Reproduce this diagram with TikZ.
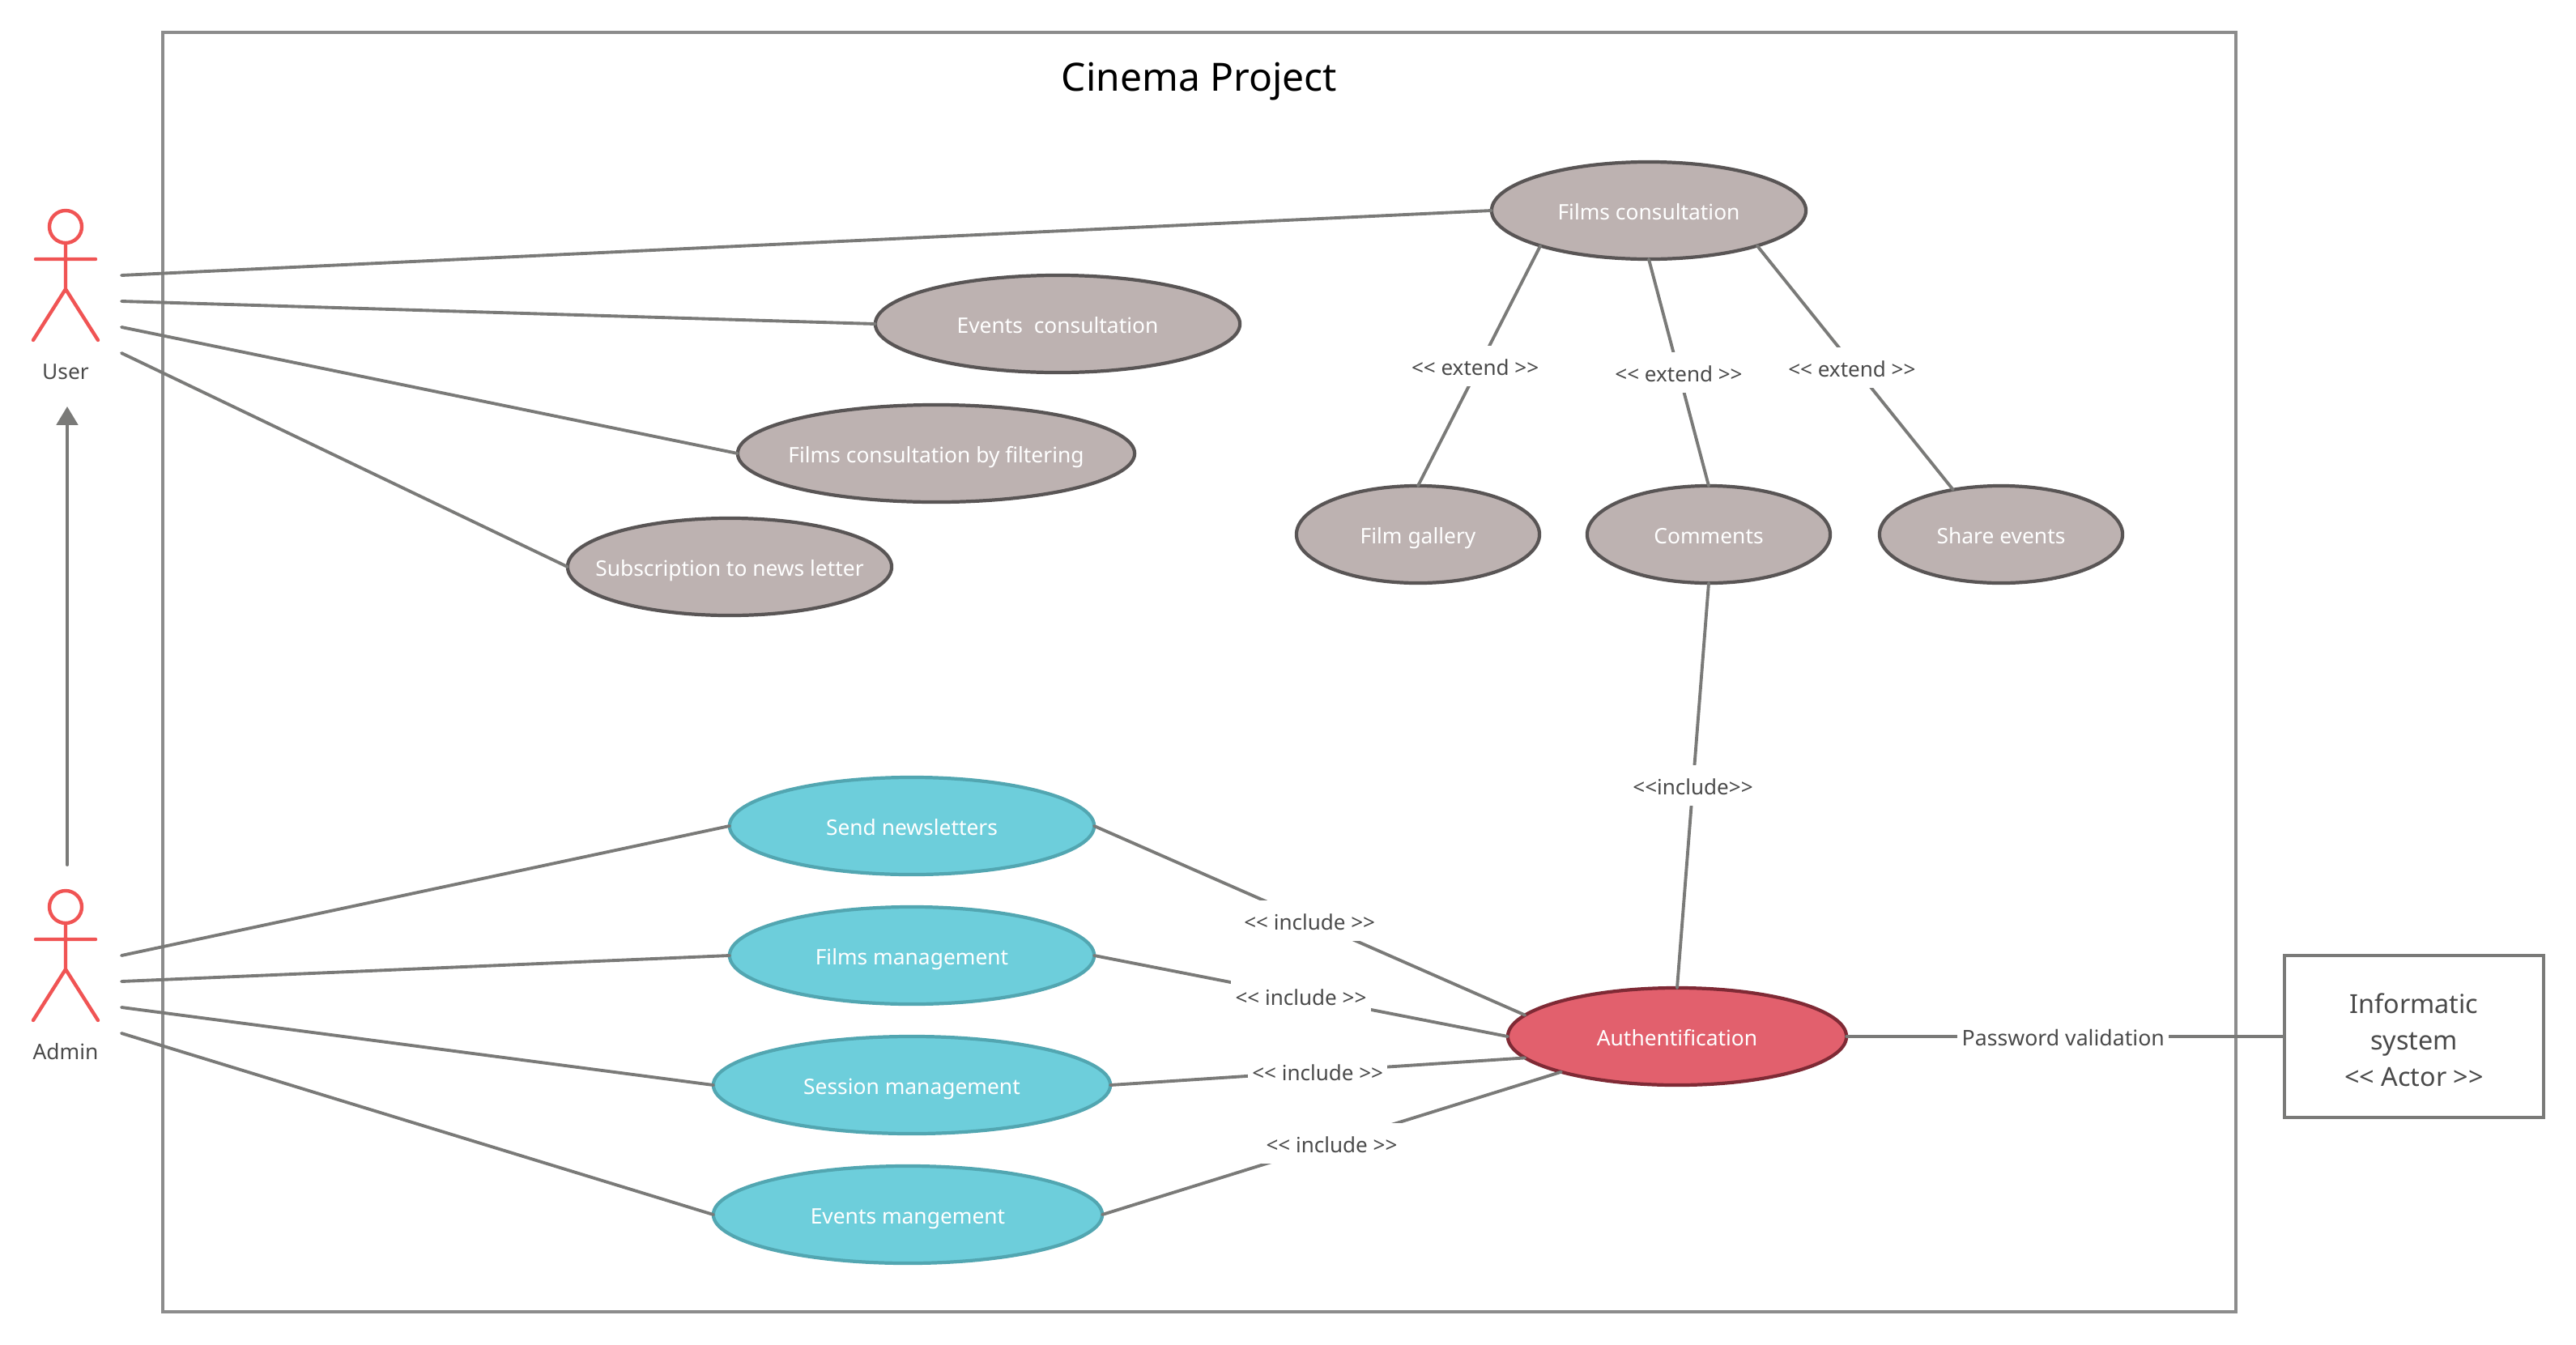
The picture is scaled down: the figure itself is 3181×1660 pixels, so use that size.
\documentclass[tikz,border=0pt]{standalone}
\usepackage{fontspec}
\setmainfont{Noto Sans}
\usetikzlibrary{arrows.meta,shapes.geometric}
\definecolor{framegray}{HTML}{8C8C8C}
\definecolor{linegray}{HTML}{7A7A78}
\definecolor{inkgray}{HTML}{4A4A4A}
\definecolor{actorred}{HTML}{F05454}
\definecolor{stonefill}{HTML}{BDB2B1}
\definecolor{stoneedge}{HTML}{595555}
\definecolor{tealfill}{HTML}{6DCEDB}
\definecolor{tealedge}{HTML}{52A6B1}
\definecolor{authfill}{HTML}{E2606D}
\definecolor{authedge}{HTML}{7F2A35}
\tikzset{
  usecase/.style={ellipse,draw,line width=1.2pt,inner xsep=-1.5cm,inner ysep=0pt,outer sep=0pt,minimum height=1.2cm,text=white,text height=1.5ex,text depth=.25ex,font=\fontsize{7.5}{10}\selectfont},
  stonecase/.style={usecase,fill=stonefill,draw=stoneedge},
  tealcase/.style={usecase,fill=tealfill,draw=tealedge},
  authcase/.style={usecase,fill=authfill,draw=authedge},
  conn/.style={draw=linegray,line width=1.1pt,line cap=round},
  tag/.style={fill=white,text=inkgray,inner xsep=1.5pt,inner ysep=0pt,minimum height=.5cm,text height=1.5ex,text depth=.25ex,font=\fontsize{7.4}{10}\selectfont},
  actorlabel/.style={text=inkgray,inner sep=0pt,font=\fontsize{7.5}{10}\selectfont},
  actor/.pic={
    \draw[actorred,line width=1.25pt,line cap=round,line join=round] (0,0) circle (.2cm) (0,20) -- (0,77) (-37,40) -- (37,40) (-40,140) -- (0,77) -- (40,140);
  }
}
\begin{document}
\begin{tikzpicture}[x=.01cm,y=-.01cm]
  \useasboundingbox (0,0) rectangle (3181,1660);
  \draw[framegray,line width=1.1pt] (201,40) rectangle (2761,1620);
  \node[text=black,inner sep=0pt,text height=1.5ex,text depth=.25ex,font=\fontsize{13.65}{17}\selectfont] (title) at (1481,101) {Cinema Project};

  \pic at (81,280) {actor};
  \node[actorlabel] (userlabel) at (81,459) {User};
  \pic at (81,1120) {actor};
  \node[actorlabel] (adminlabel) at (81,1299) {Admin};

  \coordinate (U1) at (150,340);
  \coordinate (U2) at (150,372);
  \coordinate (U3) at (150,404);
  \coordinate (U4) at (150,436);
  \coordinate (A1) at (150,1180);
  \coordinate (A2) at (150,1212);
  \coordinate (A3) at (150,1244);
  \coordinate (A4) at (150,1276);
  \coordinate (adminhead) at (83,1068);
  \coordinate (userfoot) at (83,502);

  \node[stonecase,minimum width=3.88cm] (filmscons) at (2036,260) {Films consultation};
  \node[stonecase,minimum width=4.5cm] (eventscons) at (1306,400) {Events\ \ consultation};
  \node[stonecase,minimum width=4.9cm] (filmsfilter) at (1156,560) {Films consultation by filtering};
  \node[stonecase,minimum width=4cm] (subscr) at (901,700) {Subscription to news letter};
  \node[stonecase,minimum width=3cm] (gallery) at (1751,660) {Film gallery};
  \node[stonecase,minimum width=3cm] (comments) at (2110,660) {Comments};
  \node[stonecase,minimum width=3cm] (share) at (2471,660) {Share events};
  \node[tealcase,minimum width=4.5cm] (newsletters) at (1126,1020) {Send newsletters};
  \node[tealcase,minimum width=4.5cm] (filmsmgmt) at (1126,1180) {Films management};
  \node[tealcase,minimum width=4.9cm] (session) at (1126,1340) {Session management};
  \node[tealcase,minimum width=4.8cm] (eventsmgmt) at (1121,1500) {Events mangement};
  \node[authcase,minimum width=4.18cm] (auth) at (2071,1280) {Authentification};
  \node[draw=linegray,line width=1.1pt,fill=white,align=center,text=inkgray,minimum width=3.2cm,minimum height=2cm,inner sep=0pt,outer sep=0pt,font=\fontsize{9.2}{12.7}\selectfont] (infosys) at (2981,1280) {\rule{0pt}{9.5pt}Informatic\\system\\<{}< Actor >{}>};

  \draw[conn,-{Triangle[width=7.5pt,length=6.5pt]}] (adminhead) -- (userfoot);
  \draw[conn] (U1) -- (filmscons.west);
  \draw[conn] (U2) -- (eventscons.west);
  \draw[conn] (U3) -- (filmsfilter.west);
  \draw[conn] (U4) -- (subscr.west);
  \draw[conn] (A1) -- (newsletters.west);
  \draw[conn] (A2) -- (filmsmgmt.west);
  \draw[conn] (A3) -- (session.west);
  \draw[conn] (A4) -- (eventsmgmt.west);

  \draw[conn] (filmscons.198) -- node[tag,xshift=-.05cm] (ext1) {<{}< extend >{}>} (gallery.north);
  \draw[conn] (filmscons.south) -- node[tag] (ext2) {<{}< extend >{}>} (comments.north);
  \draw[conn] (filmscons.342) -- node[tag,xshift=-.04cm] (ext3) {<{}< extend >{}>} (share.137);
  \draw[conn] (comments.south) -- node[tag] (inc0) {<{}<include>{}>} (auth.north);
  \draw[conn] (newsletters.east) -- node[tag] (inc1) {<{}< include >{}>} (auth.172);
  \draw[conn] (filmsmgmt.east) -- node[tag] (inc2) {<{}< include >{}>} (auth.west);
  \draw[conn] (session.east) -- node[tag] (inc3) {<{}< include >{}>} (auth.188);
  \draw[conn] (eventsmgmt.east) -- node[tag] (inc4) {<{}< include >{}>} (auth.197);
  \draw[conn] (auth.east) -- node[tag,pos=.495,font=\fontsize{7.58}{10}\selectfont] (pwd) {Password validation} (infosys.west);
\end{tikzpicture}
\end{document}
